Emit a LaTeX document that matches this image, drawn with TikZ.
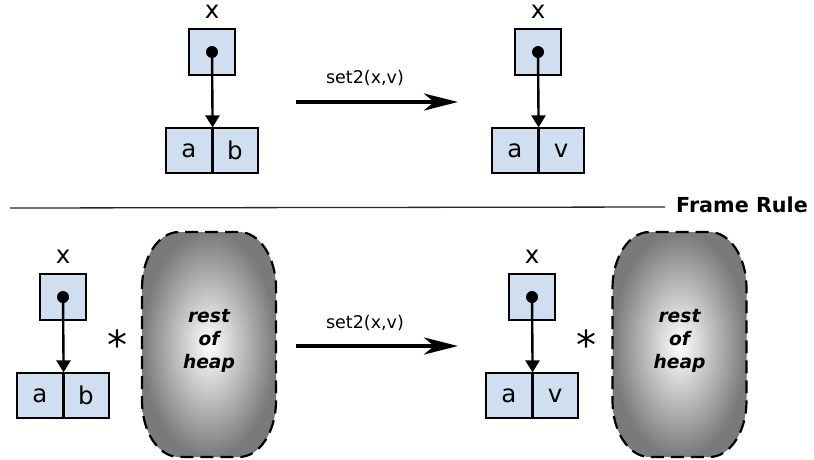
\documentclass[tikz,border=0pt]{standalone}
\usepackage{fontspec}
\setmainfont{DejaVu Sans}
\usetikzlibrary{arrows.meta,shapes.misc}
\definecolor{cellblue}{RGB}{207,223,239}
\tikzset{
  cell/.style={draw=black, line width=1.2pt, fill=cellblue, minimum width=46pt, minimum height=45pt, inner sep=0pt, font=\fontsize{24.5}{24.5}\selectfont},
  ptrbox/.style={draw=black, line width=1.2pt, fill=cellblue, minimum width=46pt, minimum height=46pt, inner sep=0pt},
  dotnode/.style={circle, fill=black, minimum size=12pt, inner sep=0pt},
  varlabel/.style={font=\fontsize{24.5}{24.5}\selectfont, inner sep=0pt},
  ptr/.style={line width=2.4pt, -{Triangle[length=12pt,width=14pt]}},
  bigarrow/.style={line width=4pt, -{Stealth[length=34pt,width=17pt,inset=10pt]}},
  oplabel/.style={font=\fontsize{17.5}{17.5}\selectfont, inner sep=0pt},
  heap/.style={draw=black, line width=2.2pt, dash pattern=on 13pt off 7pt, shading=radial, inner color=white, outer color=black!52},
  heaptext/.style={align=center, inner sep=0pt, font=\fontsize{18.7}{23}\selectfont\bfseries\itshape},
  star/.style={font=\fontsize{40}{40}\selectfont, inner sep=0pt}
}
\newcommand\heapoutline{%
  (142,288) arc[start angle=180,end angle=90,x radius=37pt,y radius=56pt]
  -- (239,232) arc[start angle=90,end angle=0,x radius=37pt,y radius=56pt]
  -- (276,401) arc[start angle=0,end angle=-90,x radius=37pt,y radius=56pt]
  -- (179,457) arc[start angle=-90,end angle=-180,x radius=37pt,y radius=56pt]
  -- cycle}
\begin{document}
\begin{tikzpicture}[x=1pt,y=-1pt]
\useasboundingbox (0,0) rectangle (814,459);
% top left
\node[varlabel] (xa) at (212,12) {x};
\node[ptrbox] (pa) at (212,52) {};
\node[dotnode] (da) at (212,52) {};
\node[cell] (aa) at (189,150.5) {a};
\node[cell] (ba) at (235,150.5) {b};
\draw[ptr] (da.center) -- (aa.north east);
\draw[line width=2.4pt] (aa.north east) -- (aa.south east);
% top arrow
\node[oplabel] (opa) at (365,78) {set2(x,v)};
\coordinate (sa) at (296,102);
\coordinate (ea) at (458,102);
\draw[bigarrow] (sa) -- (ea);
% top right
\node[varlabel] (xb) at (538,12) {x};
\node[ptrbox] (pb) at (538,52) {};
\node[dotnode] (db) at (538,52) {};
\node[cell] (ab) at (515,150.5) {a};
\node[cell] (bb) at (561,150.5) {v};
\draw[ptr] (db.center) -- (ab.north east);
\draw[line width=2.4pt] (ab.north east) -- (ab.south east);
% separator
\coordinate (l1) at (10,208);
\coordinate (l2) at (665,207);
\draw[line width=1.3pt, black!85] (l1) -- (l2);
\node[anchor=west, inner sep=0pt, font=\bfseries\fontsize{20.7}{20.7}\selectfont] (fr) at (676,205) {Frame Rule};
% bottom left
\node[varlabel] (xc) at (63,257) {x};
\node[ptrbox] (pc) at (63,297) {};
\node[dotnode] (dc) at (63,297) {};
\node[cell] (ac) at (40,395.5) {a};
\node[cell] (bc) at (86,395.5) {b};
\draw[ptr] (dc.center) -- (ac.north east);
\draw[line width=2.4pt] (ac.north east) -- (ac.south east);
\node[star] (sc) at (117,345) {*};
\draw[heap] \heapoutline;
\node[heaptext] (hc) at (209,341) {rest\\of\\heap};
% bottom arrow
\node[oplabel] (opb) at (365,323) {set2(x,v)};
\coordinate (sb) at (296,346);
\coordinate (eb) at (458,346);
\draw[bigarrow] (sb) -- (eb);
% bottom right
\node[varlabel] (xd) at (532,257) {x};
\node[ptrbox] (pd) at (532,297) {};
\node[dotnode] (dd) at (532,297) {};
\node[cell] (ad) at (509,395.5) {a};
\node[cell] (bd) at (555,395.5) {v};
\draw[ptr] (dd.center) -- (ad.north east);
\draw[line width=2.4pt] (ad.north east) -- (ad.south east);
\node[star] (sd) at (586,345) {*};
\begin{scope}[shift={(470.5,0)}]
\draw[heap] \heapoutline;
\end{scope}
\node[heaptext] (hd) at (679.5,341) {rest\\of\\heap};
\end{tikzpicture}
\end{document}
